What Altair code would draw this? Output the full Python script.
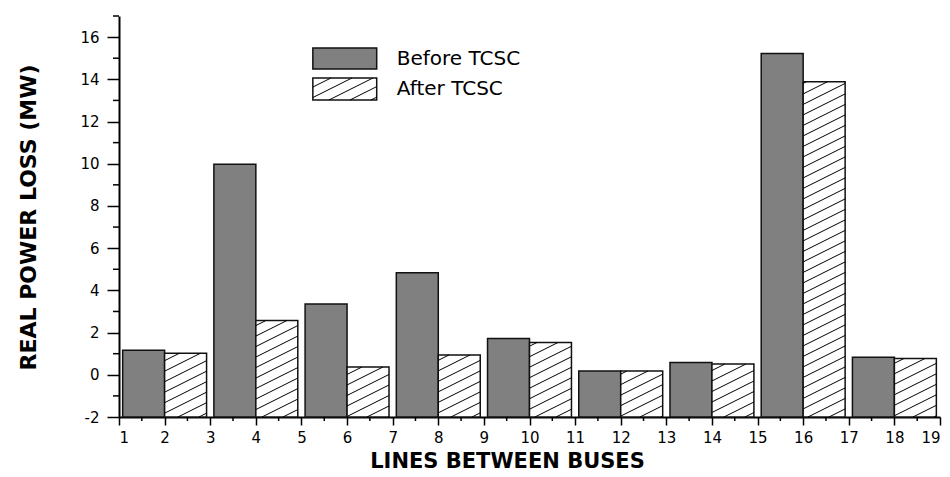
import math
import altair as alt
import pandas as pd

# ---- data ----
pair_centers = [2, 4, 6, 8, 10, 12, 14, 16, 18]
before_tcsc = [1.16, 9.97, 3.36, 4.84, 1.72, 0.18, 0.58, 15.22, 0.83]
after_tcsc = [1.02, 2.57, 0.37, 0.94, 1.53, 0.18, 0.51, 13.88, 0.77]
x_ticks = list(range(1, 20))
x_minor = [v + 0.5 for v in range(1, 19)]
y_ticks = list(range(-2, 17, 2))
y_minor = list(range(-1, 18, 2))
series_names = ["Before TCSC", "After TCSC"]

# ---- layout / style ----
W, H = 821, 401
X_DOM = [1, 19]
Y_DOM = [-2, 17]
BAR_W = 0.92
BASE = -2
GRAY = "#808080"
EDGE = "#111111"
HATCH_SLOPE_PX = 0.5
HATCH_GAP_PX = 10.5

px_x = W / (X_DOM[1] - X_DOM[0])
px_y = H / (Y_DOM[1] - Y_DOM[0])
k = HATCH_SLOPE_PX * px_x / px_y
d = HATCH_GAP_PX / px_y


def hatch(x0, x1, y0, y1):
    segs = []
    j0 = math.ceil((y0 - k * x1) / d)
    j1 = math.floor((y1 - k * x0) / d)
    for j in range(j0, j1 + 1):
        b = j * d
        xs = max(x0, (y0 - b) / k)
        xe = min(x1, (y1 - b) / k)
        if xe - xs > 1e-6:
            segs.append({"x": xs, "y": k * xs + b, "x2": xe, "y2": k * xe + b})
    return segs


rows = []
hatch_rows = []
for c, b, a in zip(pair_centers, before_tcsc, after_tcsc):
    rows.append({"x": c - BAR_W, "x2": c, "y": BASE, "y2": b, "s": series_names[0]})
    rows.append({"x": c, "x2": c + BAR_W, "y": BASE, "y2": a, "s": series_names[1]})
    hatch_rows += hatch(c, c + BAR_W, BASE, a)

# legend swatches (in data units)
leg_x = (5.25, 6.65)
leg_rows = [
    {"x": leg_x[0], "x2": leg_x[1], "y": 14.49, "y2": 15.48, "s": series_names[0]},
    {"x": leg_x[0], "x2": leg_x[1], "y": 13.02, "y2": 14.06, "s": series_names[1]},
]
leg_hatch = hatch(leg_x[0], leg_x[1], 13.02, 14.06)
leg_text = pd.DataFrame({"x": [leg_x[1] + 0.44] * 2, "y": [14.98, 13.55], "t": series_names})

bars_df = pd.DataFrame(rows + leg_rows)
hatch_df = pd.DataFrame(hatch_rows + leg_hatch)

xs = alt.Scale(domain=X_DOM, nice=False, zero=False)
ys = alt.Scale(domain=Y_DOM, nice=False, zero=False)
color = alt.Scale(domain=series_names, range=[GRAY, "#ffffff"])

minus_fix = "datum.value < 0 ? '-' + abs(datum.value) : '' + datum.value"

x_axis = alt.Axis(values=x_ticks, tickSize=8, title="LINES BETWEEN BUSES",
                  titleX=388, titleY=50, titleAlign="center", titleBaseline="alphabetic",
                  titleFontSize=21, labelPadding=5)
y_axis = alt.Axis(values=y_ticks, tickSize=12, title="REAL POWER LOSS (MW)",
                  titleX=-83.5, titleY=201, titleAlign="center", titleBaseline="alphabetic",
                  titleAngle=-90, titleFontSize=22, labelPadding=8, labelExpr=minus_fix)

bars = alt.Chart(bars_df).mark_rect(stroke=EDGE, strokeWidth=1.5).encode(
    x=alt.X("x:Q", scale=xs, axis=x_axis),
    x2="x2:Q",
    y=alt.Y("y:Q", scale=ys, axis=y_axis),
    y2="y2:Q",
    fill=alt.Fill("s:N", scale=color, legend=None),
)

hatches = alt.Chart(hatch_df).mark_rule(color="#000000", strokeWidth=1).encode(
    x=alt.X("x:Q", scale=xs), x2="x2:Q",
    y=alt.Y("y:Q", scale=ys), y2="y2:Q",
)

legend_text = alt.Chart(leg_text).mark_text(
    align="left", baseline="middle", font="DejaVu Sans", fontSize=20, color="#000000"
).encode(x=alt.X("x:Q", scale=xs), y=alt.Y("y:Q", scale=ys), text="t:N")

x_minor_ticks = alt.Chart(pd.DataFrame({"v": x_minor})).mark_rule(
    color="#000000", strokeWidth=1.5
).encode(x=alt.X("v:Q", scale=xs), y=alt.value(H), y2=alt.value(H + 4))

y_minor_ticks = alt.Chart(pd.DataFrame({"v": y_minor})).mark_rule(
    color="#000000", strokeWidth=1.5
).encode(y=alt.Y("v:Q", scale=ys), x=alt.value(0), x2=alt.value(-6))

chart = alt.layer(
    bars, hatches, legend_text, x_minor_ticks, y_minor_ticks
).properties(
    width=W, height=H,
    autosize=alt.AutoSizeParams(type="none"),
    padding={"left": 111, "top": 8, "right": 2, "bottom": 56},
).configure_view(stroke=None).configure_axis(
    grid=False,
    domainColor="#000000", domainWidth=2,
    tickColor="#000000", tickWidth=1.5,
    labelFont="DejaVu Sans", labelFontSize=15, labelColor="#000000",
    titleFont="DejaVu Sans", titleFontWeight="bold", titleColor="#000000",
)

chart.save("out.html", embed_options={"renderer": "svg", "actions": False})
